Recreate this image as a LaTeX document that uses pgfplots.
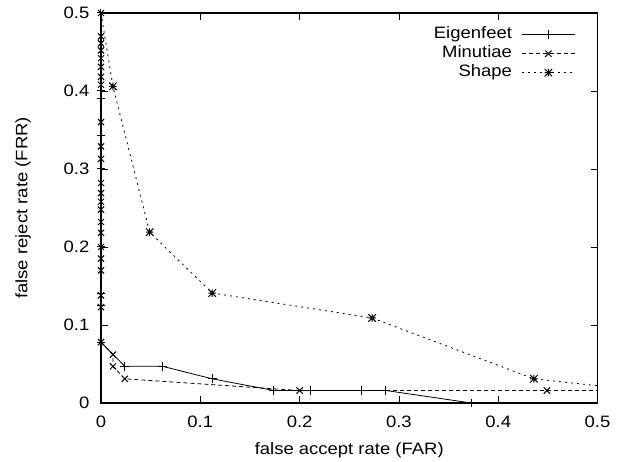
\documentclass[border=0pt]{standalone}
\usepackage{fontspec}
\setmainfont{Liberation Sans}[FakeStretch=1.12]
\usepackage{pgfplots}
\pgfplotsset{compat=1.18}

% gnuplot style "*" point: a plus and a cross together
\pgfdeclareplotmark{gpstar}{%
  \pgfpathmoveto{\pgfqpoint{-\pgfplotmarksize}{0pt}}%
  \pgfpathlineto{\pgfqpoint{\pgfplotmarksize}{0pt}}%
  \pgfpathmoveto{\pgfqpoint{0pt}{-\pgfplotmarksize}}%
  \pgfpathlineto{\pgfqpoint{0pt}{\pgfplotmarksize}}%
  \pgfpathmoveto{\pgfqpoint{-\pgfplotmarksize}{-\pgfplotmarksize}}%
  \pgfpathlineto{\pgfqpoint{\pgfplotmarksize}{\pgfplotmarksize}}%
  \pgfpathmoveto{\pgfqpoint{-\pgfplotmarksize}{\pgfplotmarksize}}%
  \pgfpathlineto{\pgfqpoint{\pgfplotmarksize}{-\pgfplotmarksize}}%
  \pgfusepathqstroke}

\begin{document}
\fontsize{16.5bp}{19bp}\selectfont
\begin{tikzpicture}
\begin{axis}[
  width=496.5bp, height=390bp, scale only axis,
  xmin=0, xmax=0.5, ymin=0, ymax=0.5,
  xtick={0,0.1,0.2,0.3,0.4,0.5},
  ytick={0,0.1,0.2,0.3,0.4,0.5},
  /pgf/number format/assume math mode=true,
  /pgf/number format/fixed,
  tick align=inside,
  major tick length=7bp,
  axis line style={line width=1.6bp},
  every tick/.style={black, line width=0.8bp},
  xticklabel style={yshift=-7bp},
  yticklabel style={xshift=-6bp},
  xlabel={false accept rate (FAR)},
  ylabel={false reject rate (FRR)},
  xlabel style={at={(axis description cs:0.5,-0.1205)}, anchor=center},
  ylabel style={at={(axis description cs:-0.157,0.5)}, anchor=center},
  legend cell align=right,
  legend plot pos=right,
  legend style={draw=none, fill=none, inner sep=0pt,
    at={(1,1)}, anchor=north east, xshift=-22bp, yshift=-12bp,
    row sep=0pt, column sep=8bp,
    nodes={text height=12bp, text depth=4bp, inner sep=1.5bp}},
  legend image code/.code={%
    \draw[#1, mark indices={2}] plot coordinates {(0bp,0bp) (26.5bp,0bp) (53bp,0bp)};},
  mark size=4.4bp,
]
  \addplot[black, line width=0.8bp, mark=+, mark options={solid, line width=1bp},
    mark indices={1,...,17}] coordinates {
    (0,0.5)(0,0.4)(0,0.390)(0,0.343)(0,0.3)(0,0.2)(0,0.140)(0,0.125)(0,0.078)
    (0.024,0.047)(0.062,0.047)(0.112,0.031)(0.174,0.016)(0.211,0.016)
    (0.262,0.016)(0.287,0.016)(0.373,0)(0.449,0)(0.56,0)};
  \addlegendentry{Eigenfeet}

  \addplot[black, line width=0.8bp, dash pattern=on 4bp off 3bp,
    mark=x, mark options={solid, line width=1bp}, mark indices={1,...,28}] coordinates {
    (0,0.5)(0,0.470)(0,0.461)(0,0.452)(0,0.442)(0,0.431)(0,0.418)(0,0.408)
    (0,0.360)(0,0.329)(0,0.313)(0,0.282)(0,0.269)(0,0.258)(0,0.248)
    (0,0.232)(0,0.218)(0,0.200)(0,0.185)(0,0.170)(0,0.138)(0,0.123)
    (0,0.078)(0.012,0.062)(0.012,0.047)(0.024,0.031)(0.200,0.016)
    (0.449,0.016)(0.6,0.016)};
  \addlegendentry{Minutiae}

  \addplot[black, line width=0.8bp, dash pattern=on 2bp off 4bp,
    mark=gpstar, mark options={solid, scale=0.85, line width=1bp},
    mark indices={2,...,6}] coordinates {
    (0,0.5)(0.012,0.406)(0.049,0.219)(0.112,0.141)(0.273,0.109)
    (0.436,0.031)(0.547,0.0156)};
  \addlegendentry{Shape}
\end{axis}
\pgfresetboundingbox
\path[use as bounding box] (current axis.south west) ++(-101bp,-59bp)
  rectangle ([shift={(26.5bp,13bp)}]current axis.north east);
\end{tikzpicture}
\end{document}
